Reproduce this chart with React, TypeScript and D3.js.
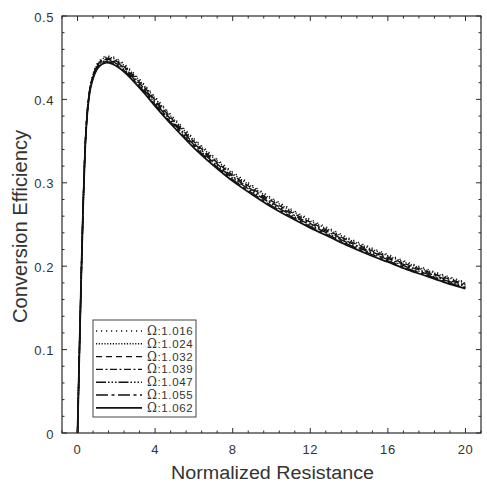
import React from "react";
import * as d3 from "d3";

const xValues = [0, 0.1, 0.2, 0.3, 0.4, 0.5, 0.6, 0.8, 1.0, 1.25, 1.5, 1.75, 2, 2.5, 3, 3.5, 4, 5, 6, 7, 8, 9, 10, 11, 12, 13, 14, 15, 16, 17, 18, 19, 20];

const omega1016 = [0, 0.100, 0.195, 0.280, 0.347, 0.385, 0.408, 0.430, 0.442, 0.449, 0.452, 0.4515, 0.449, 0.4405, 0.429, 0.4165, 0.403, 0.377, 0.353, 0.332, 0.313, 0.297, 0.282, 0.2685, 0.256, 0.245, 0.2335, 0.2235, 0.214, 0.205, 0.1965, 0.1885, 0.181];
const omega1024 = [0, 0.100, 0.195, 0.280, 0.3467, 0.3845, 0.4073, 0.4292, 0.441, 0.4478, 0.4507, 0.4501, 0.4475, 0.4389, 0.4273, 0.4148, 0.4012, 0.3752, 0.3512, 0.3302, 0.3112, 0.2952, 0.2802, 0.2668, 0.2543, 0.2433, 0.2319, 0.2219, 0.2125, 0.2035, 0.1951, 0.1871, 0.1797];
const omega1032 = [0, 0.100, 0.195, 0.280, 0.3463, 0.384, 0.4067, 0.4283, 0.440, 0.4467, 0.4493, 0.4487, 0.446, 0.4373, 0.4257, 0.413, 0.3993, 0.3733, 0.3493, 0.3283, 0.3093, 0.2933, 0.2783, 0.265, 0.2527, 0.2417, 0.2303, 0.2203, 0.211, 0.202, 0.1937, 0.1857, 0.1783];
const omega1039 = [0, 0.100, 0.195, 0.280, 0.346, 0.3835, 0.406, 0.4275, 0.439, 0.4455, 0.448, 0.4473, 0.4445, 0.4358, 0.424, 0.4113, 0.3975, 0.3715, 0.3475, 0.3265, 0.3075, 0.2915, 0.2765, 0.2633, 0.251, 0.240, 0.2288, 0.2188, 0.2095, 0.2005, 0.1923, 0.1843, 0.177];
const omega1047 = [0, 0.100, 0.195, 0.280, 0.3457, 0.383, 0.4053, 0.4267, 0.438, 0.4443, 0.4467, 0.4458, 0.443, 0.4342, 0.4223, 0.4095, 0.3957, 0.3697, 0.3457, 0.3247, 0.3057, 0.2897, 0.2747, 0.2615, 0.2493, 0.2383, 0.2272, 0.2172, 0.208, 0.199, 0.1908, 0.1828, 0.1757];
const omega1055 = [0, 0.100, 0.195, 0.280, 0.3453, 0.3825, 0.4047, 0.4258, 0.437, 0.4432, 0.4453, 0.4444, 0.4415, 0.4326, 0.4207, 0.4078, 0.3938, 0.3678, 0.3438, 0.3228, 0.3038, 0.2878, 0.2728, 0.2598, 0.2477, 0.2367, 0.2256, 0.2156, 0.2065, 0.1975, 0.1894, 0.1814, 0.1743];
const omega1062 = [0, 0.100, 0.195, 0.280, 0.345, 0.382, 0.404, 0.425, 0.436, 0.442, 0.444, 0.443, 0.440, 0.431, 0.419, 0.406, 0.392, 0.366, 0.342, 0.321, 0.302, 0.286, 0.271, 0.258, 0.246, 0.235, 0.224, 0.214, 0.205, 0.196, 0.188, 0.180, 0.173];

const seriesLabels = ["1.016", "1.024", "1.032", "1.039", "1.047", "1.055", "1.062"];
const seriesValues = [omega1016, omega1024, omega1032, omega1039, omega1047, omega1055, omega1062];
const dashStyles = ["1.2,3.8", "1.2,1.6", "6,4", "7,2.5,2,2.5", "10,2,1.5,2,1.5,2,1.5,2", "12,3.5,3,3.5", "none"];

const xTickLabels = [0, 4, 8, 12, 16, 20];
const yTickLabels = [0, 0.1, 0.2, 0.3, 0.4, 0.5];

const W = 487, H = 484;
const L = 62, R = 481, T = 16, B = 433;

export default function App() {
  const x = d3.scaleLinear().domain([-0.8, 20.8]).range([L, R]);
  const y = d3.scaleLinear().domain([0, 0.5]).range([B, T]);
  const line = d3.line<number>()
    .x((_, i) => x(xValues[i]))
    .y((v) => y(v))
    .curve(d3.curveMonotoneX);

  const xMinor = d3.range(0, 28).map((i) => -0.8 + i * 0.8).filter((v) => v <= 20.81);
  const yMinor = d3.range(0, 26).map((i) => i * 0.02);
  const isMajorX = (v: number) => Math.abs(v / 4 - Math.round(v / 4)) < 1e-6;
  const isMajorY = (v: number) => Math.abs(v / 0.1 - Math.round(v / 0.1)) < 1e-6;
  const axisColor = "#2a2a2a";
  const font = "'Liberation Sans', Arial, sans-serif";

  const legX = 93, legY = 320, legW = 103, legH = 97;
  const rowY0 = 331, rowStep = 12.8;

  return (
    <svg width={W} height={H} style={{ position: "absolute", left: 0, top: 0, background: "#fff" }}>
      <rect x={0} y={0} width={W} height={H} fill="#fff" />
      <defs>
        <clipPath id="plotClip">
          <rect x={L} y={T} width={R - L} height={B - T} />
        </clipPath>
      </defs>
      <g clipPath="url(#plotClip)">
        {seriesValues.map((vals, i) => (
          <path key={i} d={line(vals) || ""} fill="none" stroke="#111"
            strokeWidth={i === 6 ? 1.8 : 1.4}
            strokeDasharray={dashStyles[i] === "none" ? undefined : dashStyles[i]} />
        ))}
      </g>
      <rect x={L} y={T} width={R - L} height={B - T} fill="none" stroke={axisColor} strokeWidth={1.2} />
      {xMinor.map((v, i) => {
        const len = isMajorX(v) ? 5 : 2.5;
        const px = x(v);
        return (
          <g key={"xt" + i}>
            <line x1={px} x2={px} y1={B} y2={B - len} stroke={axisColor} strokeWidth={1} />
            <line x1={px} x2={px} y1={T} y2={T + len} stroke={axisColor} strokeWidth={1} />
          </g>
        );
      })}
      {yMinor.map((v, i) => {
        const len = isMajorY(v) ? 5 : 2.5;
        const py = y(v);
        return (
          <g key={"yt" + i}>
            <line x1={L} x2={L + len} y1={py} y2={py} stroke={axisColor} strokeWidth={1} />
            <line x1={R} x2={R - len} y1={py} y2={py} stroke={axisColor} strokeWidth={1} />
          </g>
        );
      })}
      {xTickLabels.map((v) => (
        <text key={"xl" + v} x={x(v)} y={454} textAnchor="middle" fontFamily={font} fontSize={13} fill="#333" letterSpacing={0.6}>
          {v}
        </text>
      ))}
      {yTickLabels.map((v) => (
        <text key={"yl" + v} x={54} y={y(v) + 5.5} textAnchor="end" fontFamily={font} fontSize={13} fill="#333" letterSpacing={0.6}>
          {v === 0 ? "0" : v.toFixed(1)}
        </text>
      ))}
      <text x={272.5} y={479} textAnchor="middle" fontFamily={font} fontSize={18} fill="#333"
        textLength={203} lengthAdjust="spacingAndGlyphs">Normalized Resistance</text>
      <text transform={`translate(27,226.5) rotate(-90)`} textAnchor="middle" fontFamily={font} fontSize={19.5} fill="#333"
        textLength={193} lengthAdjust="spacingAndGlyphs">Conversion Efficiency</text>
      <rect x={legX} y={legY} width={legW} height={legH} fill="#fff" stroke="#444" strokeWidth={1} />
      {seriesLabels.map((lab, i) => {
        const ry = rowY0 + i * rowStep;
        return (
          <g key={"lg" + i}>
            <line x1={96} x2={142} y1={ry} y2={ry} stroke="#111" strokeWidth={i === 6 ? 1.8 : 1.4}
              strokeDasharray={dashStyles[i] === "none" ? undefined : dashStyles[i]} />
            <text x={147} y={ry + 4} fontFamily={font} fontSize={11.5} fill="#333" letterSpacing={0.6}>
              <tspan fontFamily="'DejaVu Serif', 'Liberation Serif', serif" fontSize={12}>Ω</tspan>:{lab}
            </text>
          </g>
        );
      })}
    </svg>
  );
}
